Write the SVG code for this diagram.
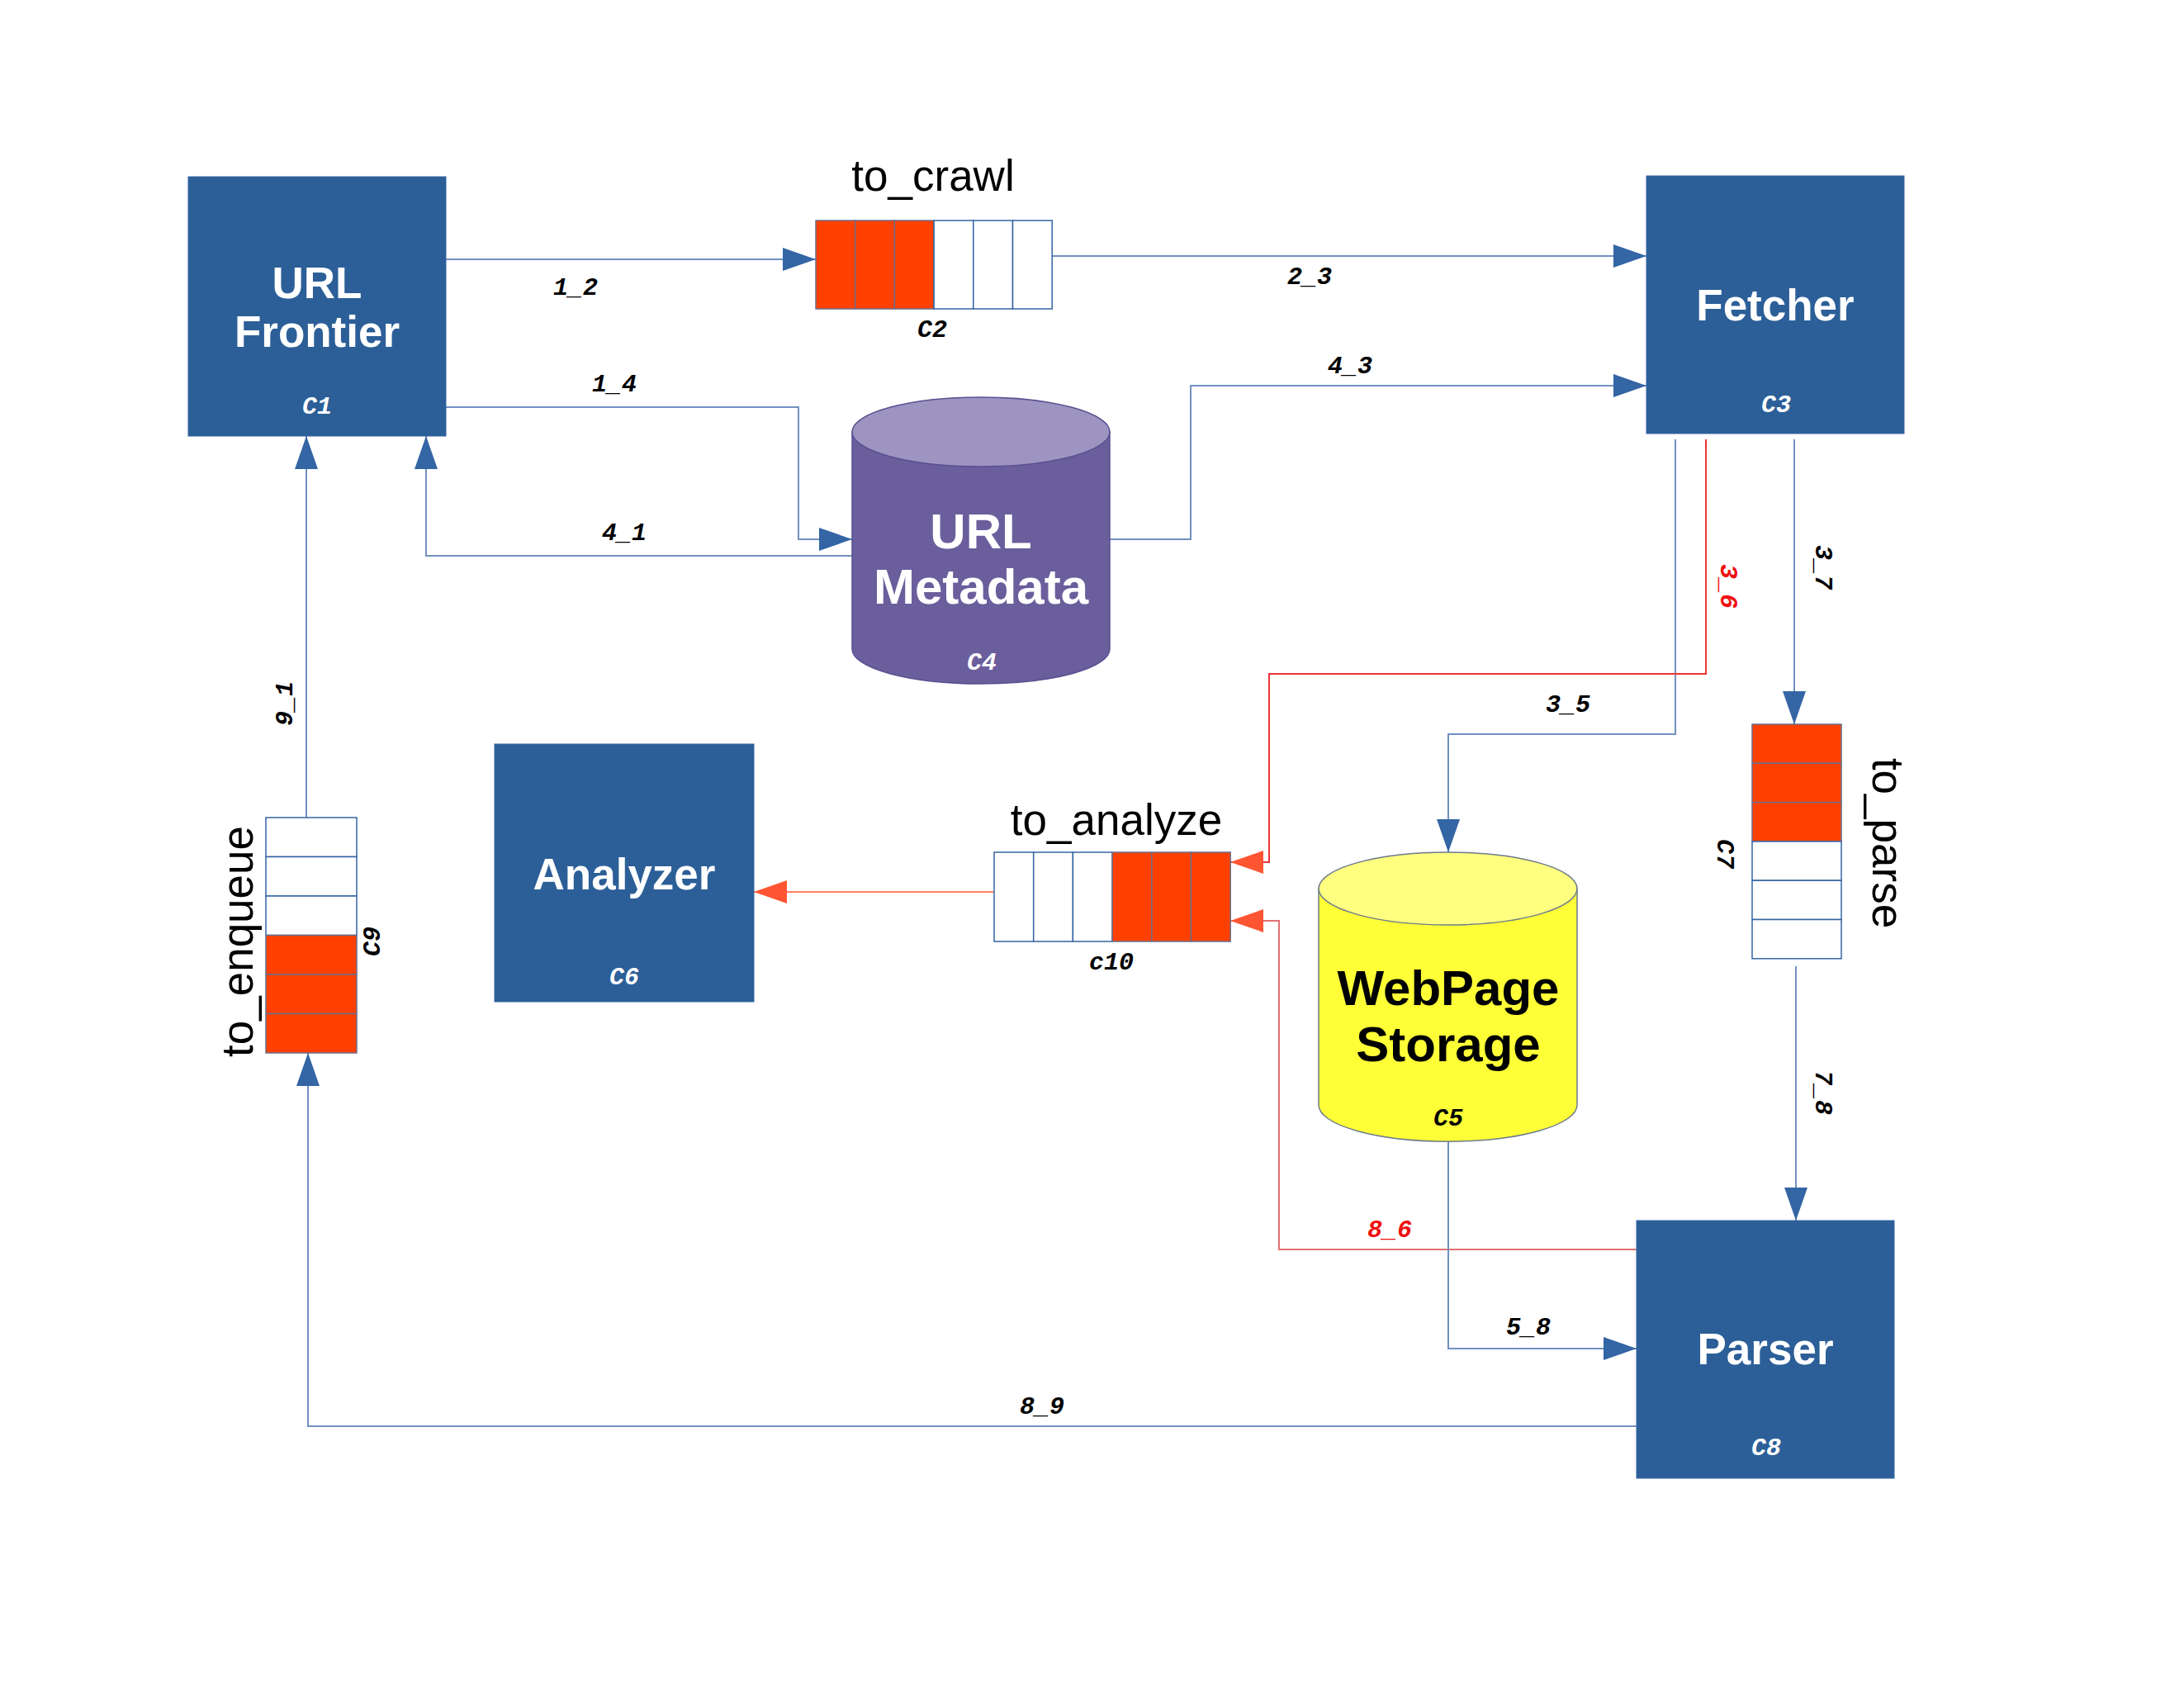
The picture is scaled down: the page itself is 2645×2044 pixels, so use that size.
<svg xmlns="http://www.w3.org/2000/svg" width="2645" height="2044" viewBox="0 0 2645 2044">
<style>
.box{fill:#2c5f98;stroke:#3465a4;stroke-width:1}
.bt{font-family:"Liberation Sans",Arial,sans-serif;font-weight:bold;font-size:53px;fill:#fff;text-anchor:middle;dominant-baseline:central}
.ct{font-family:"Liberation Sans",Arial,sans-serif;font-weight:bold;font-size:60px;text-anchor:middle;dominant-baseline:central}
.qt{font-family:"Liberation Sans",Arial,sans-serif;font-size:53px;fill:#000;text-anchor:middle;dominant-baseline:central}
.lb{font-family:"Liberation Mono","DejaVu Sans Mono",monospace;font-weight:bold;font-style:italic;font-size:30px;fill:#000;text-anchor:middle;dominant-baseline:central}
.wl{fill:#fff}
.rl{fill:#ee1111}
.cb{fill:#fff;stroke:#3465a4;stroke-width:1.5}
.cr{fill:#ff4000;stroke:#6d6d8a;stroke-width:1.5}
.ln{fill:none;stroke:#7290c0;stroke-width:2}
.lr{fill:none;stroke:#ee3333;stroke-width:2}
.lp{fill:none;stroke:#e07070;stroke-width:2}
.lo{fill:none;stroke:#ff8060;stroke-width:2}
</style>
<defs>
<marker id="ab" markerUnits="userSpaceOnUse" markerWidth="42" markerHeight="30" refX="40" refY="14" orient="auto">
<path d="M0,0 L40,14 L0,28 Z" fill="#3465a4"/>
</marker>
<marker id="ar" markerUnits="userSpaceOnUse" markerWidth="42" markerHeight="30" refX="40" refY="14" orient="auto">
<path d="M0,0 L40,14 L0,28 Z" fill="#ff5533"/>
</marker>
</defs>
<rect width="2645" height="2044" fill="#fff"/>

<g id="connectors">
<path class="ln" d="M540,314 H988" marker-end="url(#ab)"/>
<path class="ln" d="M1274,310 H1994" marker-end="url(#ab)"/>
<path class="ln" d="M540,493 H967 V653 H1032" marker-end="url(#ab)"/>
<path class="ln" d="M1032,673 H516 V528" marker-end="url(#ab)"/>
<path class="ln" d="M1344,653 H1442 V467 H1994" marker-end="url(#ab)"/>
<path class="ln" d="M371,990 V528" marker-end="url(#ab)"/>
<path class="ln" d="M2029,532 V889 H1754 V1032" marker-end="url(#ab)"/>
<path class="lr" d="M2066,532 V816 H1537 V1044 H1490" marker-end="url(#ar)"/>
<path class="ln" d="M2173,532 V877" marker-end="url(#ab)"/>
<path class="ln" d="M2175,1170 V1478" marker-end="url(#ab)"/>
<path class="lp" d="M1982,1513 H1549 V1115 H1490" marker-end="url(#ar)"/>
<path class="ln" d="M1754,1382 V1633 H1982" marker-end="url(#ab)"/>
<path class="ln" d="M1982,1727 H373 V1275" marker-end="url(#ab)"/>
<path class="lo" d="M1204,1080 H913" marker-end="url(#ar)"/>
<text class="lb" x="697" y="349">1_2</text>
<text class="lb" x="1586" y="336">2_3</text>
<text class="lb" x="744" y="466">1_4</text>
<text class="lb" x="756" y="646">4_1</text>
<text class="lb" x="1635" y="444">4_3</text>
<text class="lb" x="1899" y="854">3_5</text>
<text class="lb" x="1851" y="1608">5_8</text>
<text class="lb rl" x="1683" y="1490">8_6</text>
<text class="lb" x="1262" y="1704">8_9</text>
<text class="lb" transform="translate(346,852) rotate(-90)">9_1</text>
<text class="lb rl" transform="translate(2092,710) rotate(90)">3_6</text>
<text class="lb" transform="translate(2207,687) rotate(90)">3_7</text>
<text class="lb" transform="translate(2207,1323) rotate(90)">7_8</text>
</g>

<g id="c1">
<rect class="box" x="228" y="214" width="312" height="314"/>
<text class="bt" x="384" y="342">URL</text>
<text class="bt" x="384" y="401">Frontier</text>
<text class="lb wl" x="384" y="493">C1</text>
</g>

<g id="c2">
<text class="qt" x="1130" y="212">to_crawl</text>
<rect class="cr" x="988" y="267" width="47.7" height="107"/>
<rect class="cr" x="1035.7" y="267" width="47.7" height="107"/>
<rect class="cr" x="1083.4" y="267" width="47.7" height="107"/>
<rect class="cb" x="1131.1" y="267" width="47.7" height="107"/>
<rect class="cb" x="1178.8" y="267" width="47.7" height="107"/>
<rect class="cb" x="1226.5" y="267" width="47.7" height="107"/>
<text class="lb" x="1129" y="400">C2</text>
</g>

<g id="c3">
<rect class="box" x="1994" y="213" width="312" height="312"/>
<text class="bt" x="2150" y="369">Fetcher</text>
<text class="lb wl" x="2151" y="491">C3</text>
</g>

<g id="c4">
<path d="M1032,523 V786 A156,42 0 0 0 1344,786 V523 Z" fill="#6b5e9c" stroke="#5a5090" stroke-width="1.5"/>
<ellipse cx="1188" cy="523" rx="156" ry="42" fill="#9d94c2" stroke="#5a5090" stroke-width="1.5"/>
<text class="ct" x="1188" y="643" fill="#fff">URL</text>
<text class="ct" x="1188" y="710" fill="#fff">Metadata</text>
<text class="lb wl" x="1189" y="803">C4</text>
</g>

<g id="c5">
<path d="M1597,1076 V1338 A156,44 0 0 0 1910,1338 V1076 Z" fill="#ffff38" stroke="#6d7a8a" stroke-width="1.5"/>
<ellipse cx="1753.5" cy="1076" rx="156.5" ry="44" fill="#ffff80" stroke="#6d7a8a" stroke-width="1.5"/>
<text class="ct" x="1754" y="1196" fill="#000">WebPage</text>
<text class="ct" x="1754" y="1264" fill="#000">Storage</text>
<text class="lb" x="1754" y="1355">C5</text>
</g>

<g id="c6">
<rect class="box" x="599" y="901" width="314" height="312"/>
<text class="bt" x="756" y="1058">Analyzer</text>
<text class="lb wl" x="756" y="1184">C6</text>
</g>

<g id="c7">
<rect class="cr" x="2122" y="877" width="108" height="47.3"/>
<rect class="cr" x="2122" y="924.3" width="108" height="47.3"/>
<rect class="cr" x="2122" y="971.6" width="108" height="47.3"/>
<rect class="cb" x="2122" y="1018.9" width="108" height="47.3"/>
<rect class="cb" x="2122" y="1066.2" width="108" height="47.3"/>
<rect class="cb" x="2122" y="1113.5" width="108" height="47.3"/>
<text class="qt" transform="translate(2286,1021) rotate(90)">to_parse</text>
<text class="lb" transform="translate(2088,1034) rotate(90)">C7</text>
</g>

<g id="c8">
<rect class="box" x="1982" y="1478" width="312" height="312"/>
<text class="bt" x="2138" y="1633">Parser</text>
<text class="lb wl" x="2139" y="1754">C8</text>
</g>

<g id="c9">
<rect class="cb" x="322" y="990" width="110" height="47.5"/>
<rect class="cb" x="322" y="1037.5" width="110" height="47.5"/>
<rect class="cb" x="322" y="1085" width="110" height="47.5"/>
<rect class="cr" x="322" y="1132.5" width="110" height="47.5"/>
<rect class="cr" x="322" y="1180" width="110" height="47.5"/>
<rect class="cr" x="322" y="1227.5" width="110" height="47.5"/>
<text class="qt" transform="translate(287,1140) rotate(-90)">to_enqueue</text>
<text class="lb" transform="translate(452,1140) rotate(-90)">C9</text>
</g>

<g id="c10">
<text class="qt" x="1352" y="992">to_analyze</text>
<rect class="cb" x="1204" y="1032" width="47.7" height="108"/>
<rect class="cb" x="1251.7" y="1032" width="47.7" height="108"/>
<rect class="cb" x="1299.4" y="1032" width="47.7" height="108"/>
<rect class="cr" x="1347.1" y="1032" width="47.7" height="108"/>
<rect class="cr" x="1394.8" y="1032" width="47.7" height="108"/>
<rect class="cr" x="1442.5" y="1032" width="47.7" height="108"/>
<text class="lb" x="1346" y="1166">c10</text>
</g>
</svg>
